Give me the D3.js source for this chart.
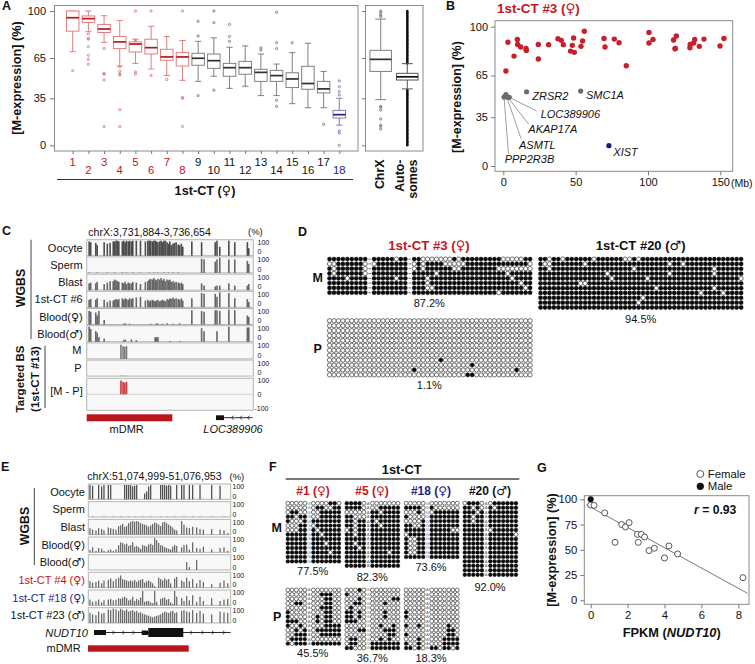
<!DOCTYPE html>
<html><head><meta charset="utf-8">
<script src="https://cdn.jsdelivr.net/npm/d3@7/dist/d3.min.js"></script>
<style>
html,body{margin:0;padding:0;background:#fff}
svg{display:block}
text{font-family:"Liberation Sans",Arial,sans-serif;fill:#111}
</style></head><body>
<script>
// ---------- Panel A data ----------
const sampleIds=[1,2,3,4,5,6,7,8,9,10,11,12,13,14,15,16,17,18];
const whiskerLow=[69.7,84.6,76.7,59,61,56.8,52,48.4,47.6,51.4,42.4,44,37,37,31,28,28,15];
const quart1=[85,91.5,84,72,69.5,68,63.3,59,59.6,57.3,51.4,52.9,47.6,47.6,43,41.7,39,20.3];
const medians=[95,94.3,86.6,77,75.4,72.7,65.8,65.8,64.8,63,57.8,57.8,54.3,51.9,49.4,46,42,22.8];
const quart3=[100,96.3,90,81,77,79,71.5,69,68.5,68,61,62.5,56.6,55.8,54,58.8,47.6,26];
const whiskerHigh=[100,100,96.5,93,79,88.6,81,78,77.4,80,73,74,68,60.5,69,76,55,35];
const outliers=[[55.6],[83,79.6,79,73.5,67,64,60.3],[72,53.6,53,48.6,14],[58.5,55,53,52.4,26.5,14],[100,78,54.6,53],[100,52],[49],[100,35.7,35,14],
 [92.3,81.4,37],[100,91.3,41],[90,81,77.4],[],[72.5,70.7],[99,76.4,72,33.5,29],[76.4],[],[15.6],[48,43.7,40,37.5,10.7,9,0]];
const sampleGroup=["r","r","r","r","r","r","r","r","k","k","k","k","k","k","k","k","k","b"];
const chromNames=["ChrX","Autosomes"];
const chromStats=[[34,55,64,70.7,94],[42,48.6,51,53.6,60.8]];
const chrXOut=[100,98.8,97,95.8,29,28.3,26.3,19.6,15,14,12];
const autoOut=[100,99,98,97,96,95,94,93,92,91,90,89,88,87,86,85,84,83,82,81,80,79,78,77,76,75,74,73,72,71,70,69,68,67,66,65,64,63,62,61,
 41,40,39,38,37,36,35,34,33,32,31,30,29,28,27,26,25,24,23,22,21,20,19,18,17,16,15,14,13,12,11,10,9,8,7,6,5,4,3,2,1,0];
const aTicks=[0,35,65,100];
// ---------- Panel B data ----------
const bRedMb=[1.8,3.2,7.4,9.7,9.9,12,15.7,15.9,24.2,24.2,31.3,37.8,40.1,41.5,46.5,47.7,48.6,49.1,53.7,54.8,56,69.6,70.3,76.7,80,85,100.7,100.7,103.5,117.7,118.7,118.9,119.6,129,129.2,131.6,132.3,135.5,138.7,149.8,152.5];
const bRedPct=[68.2,88.8,78.9,90.9,87.3,85.4,84.4,83,76.8,87.3,87.1,91.4,90.2,87.1,82.5,86.6,91.9,81.6,85.9,89.7,96.7,91.6,85.4,91.1,88.5,72,95.9,88.3,90.9,90.4,84.2,84.4,93.3,84.9,87.3,88.3,90.9,85.9,91.1,86.1,91.6];
const bGrayMb=[0.5,1.8,3,4.1,16.1,53.5];
const bGrayPct=[49.5,51.2,49.4,49.3,53.3,53.8];
const bBlueMb=[73], bBluePct=[14.6];
const bGenes=["ZRSR2","SMC1A","LOC389906","AKAP17A","ASMTL","PPP2R3B","XIST"];
// ---------- Panel C data ----------
const cPos=[70,115,260,300,350,500,590,670,760,800,840,880,920,1020,1060,1100,1140,1190,1230,1280,1320,1380,1420,1540,1680,1750,1790,1830,1880,1920,1960,2000,2040,2090,2130,2170,2210,2250,2300,2340,2380,2420,2470,2510,2560,2620,2660,2710,2750,3010,3290,3360,3680,3730,3810,4070,4240,4600,4640];
const cNames=["Oocyte","Sperm","Blast","1st-CT #6","Blood(♀)","Blood(♂)"];
const cOocyte=[95,90,85,70,0,90,80,85,95,95,100,100,95,95,100,90,100,95,100,95,100,0,100,100,95,100,100,100,95,100,100,95,90,95,100,90,100,100,90,80,95,70,80,85,90,75,70,80,60,95,90,0,90,100,60,100,90,90,50];
const cSperm=[3,0,0,3,0,0,3,0,0,3,0,0,0,3,0,0,3,0,0,0,3,0,0,3,0,0,3,0,0,3,0,0,3,0,0,0,3,0,0,3,0,0,3,0,0,3,0,0,0,0,95,90,75,90,100,90,90,80,60];
const cBlast=[45,50,45,55,0,40,50,60,60,70,65,60,55,50,45,55,40,50,45,45,55,0,50,40,55,60,70,75,70,80,70,65,75,70,80,65,75,60,70,65,70,55,60,50,55,50,45,50,40,0,45,30,25,30,30,45,30,30,40];
const cSixth=[50,55,50,60,0,50,35,45,45,50,55,50,55,60,50,60,55,50,60,55,60,0,65,70,45,50,40,45,50,45,40,45,50,40,45,50,45,40,55,50,60,55,65,55,60,55,50,60,45,60,95,90,90,70,100,95,60,55,35];
const cBloodF=[90,85,80,60,90,30,0,0,0,0,0,0,0,0,5,8,0,0,5,0,0,0,0,0,0,0,0,5,0,0,0,8,5,0,0,5,0,0,8,0,0,0,5,0,0,0,8,0,0,95,90,85,95,95,90,100,95,60,50];
const cBloodM=[100,85,70,60,30,20,0,0,0,0,0,0,0,0,10,15,0,0,0,15,0,0,10,0,0,0,0,0,0,0,30,30,30,0,0,0,0,0,0,0,5,0,0,0,0,0,5,0,0,0,90,70,0,70,0,100,0,95,95];
const cSeries=[cOocyte,cSperm,cBlast,cSixth,cBloodF,cBloodM];
const targetPos=[980,1040,1090,1140];
const targetM=[95,85,80,85], targetP=[3,2,2,2], targetDiff=[92,83,78,83];
// ---------- Panel E data ----------
const ePos=[23,59,105,142,183,215,275,307,343,380,416,444,471,499,526,554,581,609,636,664,691,718,746,773,801,828,856,883,911,938,966,993,1020,1048,1075,1103,1130,1158,1185,1213,1281,1313,1350,1387,1432,1487,1533,1579,1693,1808,1862,1913];
const eNames=["Oocyte","Sperm","Blast","Blood(♀)","Blood(♂)","1st-CT #4 (♀)","1st-CT #18 (♀)","1st-CT #23 (♂)"];
const eOocyte=[100,95,0,100,90,100,100,100,0,0,0,0,0,100,100,100,100,90,95,100,0,0,0,40,55,90,100,0,0,0,0,100,100,100,95,100,95,0,0,100,100,100,0,100,100,0,100,0,100,95,0,0];
const eSperm=[0,3,0,0,0,3,0,0,3,0,0,3,0,0,0,3,0,0,3,0,0,0,3,0,0,0,3,0,0,0,0,3,0,0,3,0,0,0,3,0,0,3,0,0,3,0,3,0,3,0,3,0];
const eBlast=[45,35,30,45,40,30,50,45,40,35,60,65,75,55,60,80,90,95,90,95,90,80,75,70,65,55,65,75,85,80,70,60,85,90,80,70,60,50,35,30,95,70,50,45,55,50,40,35,40,35,30,10];
const eBloodF=[15,35,10,30,25,10,15,20,10,20,50,70,65,55,60,45,50,70,40,45,35,25,50,45,40,55,60,50,100,85,65,50,45,35,30,25,20,40,50,45,35,50,55,20,70,30,25,40,20,30,35,10];
const eBloodM=[0,0,0,0,0,0,0,0,0,0,0,0,0,0,0,0,0,0,0,0,0,0,0,0,0,0,0,0,0,0,0,0,0,0,0,0,0,0,0,0,0,0,55,20,0,70,0,0,0,0,0,0];
const eFourth=[45,35,40,50,30,50,55,65,45,60,70,85,60,55,50,45,50,45,55,40,50,55,60,35,45,50,40,30,10,0,70,60,50,65,55,60,30,0,65,75,50,40,70,45,60,30,55,40,25,35,50,30];
const eEighteenth=[40,25,30,40,20,35,40,45,35,40,50,45,55,60,50,35,40,60,30,45,35,55,100,25,30,30,20,15,100,25,0,45,50,55,40,45,20,10,100,60,50,30,65,35,70,25,60,30,50,30,40,45];
const eTwentyThird=[70,60,55,80,65,70,95,90,100,95,85,100,90,85,95,80,85,90,80,85,70,75,65,60,55,50,45,40,45,50,55,60,70,80,75,70,80,85,70,75,85,90,80,75,90,70,85,65,60,80,75,70];
const eSeries=[eOocyte,eSperm,eBlast,eBloodF,eBloodM,eFourth,eEighteenth,eTwentyThird];
// ---------- Panel D data (indices of unmethylated CpGs per read) ----------
const d3MOpen=[[15,21,22,23,24,25,26,27,29,39,40,41,42,43],[0,1,8,10,19,21,26,27,28,29,30,45],[1,8,19,21,28,29,38,39,40,41,42,43,44,45],[1,8,24,40],[4,15,22,41],[22,43],[22,23,44],[38]];
const d3PFilled=[[],[],[],[],[],[],[],[],[25],[32],[19,42],[31,32]];
const d20MOpen=[[2,5,12,19,20,22],[1,2,10,29,32],[2,21,39],[15,29,39],[16,24,45],[9,10],[26,39],[36,41],[23],[22],[]];
const dGapCols=[9,18];
// ---------- Panel F data (reads; 1 = methylated) ----------
const f1M=["000000000110","000000110011","011000011111","110110011111","100011111111","000110111111","000111011111","111111101111","111111111111","111111110111","111111111111","111111111011","111111111111","111111111111"];
const f5M=["111100000000","111100011111","000001101111","110001111111","110111011111","110111101111","010111111111","110111111111","111111111111","110111111111","111011111111","111111111011","111111111111","111111111111","111111111111"];
const f18M=["000000000000","111101000000","000100111111","100001111111","000011111111","110011111111","111111111100","011111111111","100111111111","100111111111","100111111111","100111111111","111111111111"];
const f20M=["011100111111","110101011111","111011111111","110111111111","110111111111","111111111111","111110111111","111111111110","111111111111","111111111111","111111111111","111111111111","111111111111","111111111111","111111111111","111111111111","111111111111"];
const f1P=["000000000000","000000011100","000000001100","001100001100","000000011100","100000001100","100000101100","111000101100","100100001111","001010111111","001110011111","011110000000","101111111111"];
const f5P=["000100000000","100000000000","000100000011","001100001000","010000000000","110100001000","110100001000","111000000000","000000010010","000110001110","000000000110","011000010100","011001111111","110001111111"];
const f18P=["000000000000","000000000000","000000000000","000000000000","000000000000","100000000000","100000000000","000000000000","100100000100","000000000110","100000000110","000100001111","100100001111","110101101101"];
const fPercM=["77.5%","82.3%","73.6%","92.0%"], fPercP=["45.5%","36.7%","18.3%"];
const fCenterM=["G","A","G","A"], fCenterP=["A","G","A"];
// ---------- Panel G data ----------
const gFemaleX=[0,0.18,0.76,1.32,1.68,1.88,2.08,2.53,2.58,2.74,2.92,3.16,3.45,4.0,4.24,4.71,8.25];
const gFemaleY=[94.4,94,86.5,57.4,75,72.6,76.9,65.3,57.4,65.3,62.7,49.2,51.5,41.9,53.8,45.9,22.4];
const gMaleX=[0], gMaleY=[100];
const gLineX=[-0.22,8.5], gLineY=[94.4,6.9];

// ---------- helpers ----------
const RED="#c3161c", BLUE="#27247f";
const svg=d3.select("body").append("svg").attr("width",755).attr("height",664);
function txt(x,y,s,o={}){
  const t=svg.append("text").attr("x",x).attr("y",y)
    .attr("font-size",o.size||11).attr("font-weight",o.bold?"bold":"normal")
    .attr("font-style",o.italic?"italic":"normal").attr("text-anchor",o.anchor||"start")
    .style("fill",o.fill||"#111");
  if(o.rotate) t.attr("transform",`rotate(-90 ${x} ${y})`);
  s.split(/([♀♂])/).forEach(p=>{
    if(!p) return;
    const ts=t.append("tspan").text(p);
    if(p==="♀"||p==="♂") ts.style("font-family","'DejaVu Sans'").attr("font-weight","normal");
  });
  return t;
}
function frame(x0,y0,x1,y1,stroke="#8a8a8a",w=1,fill="none"){
  svg.append("rect").attr("x",x0).attr("y",y0).attr("width",x1-x0).attr("height",y1-y0)
   .attr("fill",fill).attr("stroke",stroke).attr("stroke-width",w);
}
function ln(x1,y1,x2,y2,stroke="#333",w=1){
  svg.append("line").attr("x1",x1).attr("y1",y1).attr("x2",x2).attr("y2",y2).attr("stroke",stroke).attr("stroke-width",w);
}
function axis(gen,tx,ty,size=11,color="#777"){
  const g=svg.append("g").attr("transform",`translate(${tx},${ty})`).call(gen);
  g.select(".domain").remove();
  g.selectAll(".tick line").attr("stroke",color);
  g.selectAll(".tick text").attr("font-size",size).style("font-family",'"Liberation Sans"').style("fill","#111");
  return g;
}
["A|2|10","B|446|10","C|2|235","D|298|236","E|1|471","F|269|471","G|537|472"].forEach(s=>{
  const [l,x,y]=s.split("|"); txt(+x,+y,l,{bold:true,size:12.5});
});
const yTitle="[M-expression] (%)";

// ---------- Panel A ----------
const ax=d3.scaleLinear().domain([1,18]).range([72.7,339.3]);
const ay=d3.scaleLinear().domain([0,100]).range([145.3,11]);
frame(54.5,5.5,358,151); frame(365.5,5.5,423,151);
const groupCols={r:{s:"#dd7f80",m:"#b8161c",o:"#d9686b"},k:{s:"#808080",m:"#2f2f2f",o:"#6a6a6a"},b:{s:"#7e7eb8",m:"#241f80",o:"#6f6fb5"}};
function box(cx,w,st,out,c,outR=1.1){
  const g=svg.append("g");
  const [wl,q1,m,q3,wh]=st;
  g.append("line").attr("x1",cx).attr("x2",cx).attr("y1",ay(wl)).attr("y2",ay(q1)).attr("stroke",c.s);
  g.append("line").attr("x1",cx).attr("x2",cx).attr("y1",ay(q3)).attr("y2",ay(wh)).attr("stroke",c.s);
  [wl,wh].forEach(v=>g.append("line").attr("x1",cx-w/4).attr("x2",cx+w/4).attr("y1",ay(v)).attr("y2",ay(v)).attr("stroke",c.s));
  g.append("rect").attr("x",cx-w/2).attr("y",ay(q3)).attr("width",w).attr("height",ay(q1)-ay(q3)).attr("fill","#fff").attr("stroke",c.s);
  g.append("line").attr("x1",cx-w/2).attr("x2",cx+w/2).attr("y1",ay(m)).attr("y2",ay(m)).attr("stroke",c.m).attr("stroke-width",1.7);
  g.selectAll("circle").data(out).join("circle").attr("cx",cx).attr("cy",d=>ay(d)).attr("r",outR)
    .attr("fill","none").attr("stroke",c.o).attr("stroke-width",0.8);
}
sampleIds.forEach((id,i)=>box(ax(id),12.5,[whiskerLow[i],quart1[i],medians[i],quart3[i],whiskerHigh[i]],outliers[i],groupCols[sampleGroup[i]]));
const ax2=d3.scalePoint().domain(chromNames).range([380.7,407.3]);
box(ax2("ChrX"),21.5,chromStats[0],chrXOut,groupCols.k);
svg.append("g").selectAll("circle").data(autoOut).join("circle").attr("cx",ax2("Autosomes")).attr("cy",d=>ay(d)).attr("r",1.3).attr("fill","#111");
box(ax2("Autosomes"),21.5,chromStats[1],[],{s:"#555",m:"#111",o:"#111"});
axis(d3.axisLeft(ay).tickValues(aTicks).tickSize(4).tickPadding(4),54,0);
axis(d3.axisLeft(ay).tickValues(aTicks).tickSize(3).tickFormat(""),365,0);
axis(d3.axisBottom(ax).tickValues(sampleIds).tickSize(3).tickFormat(""),0,151);
sampleIds.forEach((id,i)=>txt(ax(id),i%2?173.5:166,String(id),{anchor:"middle",size:11.3,fill:sampleGroup[i]==="r"?RED:sampleGroup[i]==="b"?BLUE:"#111"}));
ln(57,179.5,353,179.5,"#333",1.1);
txt(205,195,"1st-CT (♀)",{anchor:"middle",bold:true,size:12.7});
txt(21,78,yTitle,{anchor:"middle",bold:true,size:12.7,rotate:true});
txt(384,159.5,"ChrX",{anchor:"end",bold:true,size:12.4,rotate:true});
txt(404,159.5,"Auto-",{anchor:"end",bold:true,size:12.4,rotate:true});
txt(416.5,159.5,"somes",{anchor:"end",bold:true,size:12.4,rotate:true});

// ---------- Panel B ----------
const bx=d3.scaleLinear().domain([0,150]).range([503.3,720.3]);
const by=d3.scaleLinear().domain([0,100]).range([166,26.7]);
frame(495,20.7,732.7,171.3);
axis(d3.axisLeft(by).tickValues([0,35,65,100]).tickSize(4).tickPadding(3),495,0);
axis(d3.axisBottom(bx).tickValues([0,50,100,150]).tickSize(4).tickPadding(3),0,171.3);
txt(731,187,"(Mb)",{size:10.5});
txt(460.5,97,yTitle,{anchor:"middle",bold:true,size:12.5,rotate:true});
txt(497,13,"1st-CT #3 (♀)",{bold:true,size:13.4,fill:RED});
function dots(xs,ys,col,r){
  svg.append("g").selectAll("circle").data(xs.map((x,i)=>[x,ys[i]])).join("circle")
   .attr("cx",d=>bx(d[0])).attr("cy",d=>by(d[1])).attr("r",r).attr("fill",col);
}
// leader lines from the grey points to their labels
[[3,536.5,111],[2,528.5,124],[1,521,138.5],[0,508.5,154]].forEach(([i,x2,y2])=>ln(bx(bGrayMb[i]),by(bGrayPct[i]),x2,y2,"#777",0.7));
dots(bRedMb,bRedPct,"#c8202a",2.7);
dots(bGrayMb,bGrayPct,"#6b6b6b",2.6);
dots(bBlueMb,bBluePct,"#1a1a80",2.6);
[[532.3,100.3],[586,99],[540.7,118.3],[528.3,133.3],[519,148.7],[504.7,163.3],[613.3,155.7]].forEach(([x,y],i)=>txt(x,y,bGenes[i],{italic:true,size:11}));

// ---------- Tracks (C, E) ----------
function track(y0,h,xScale,pos,vals,color,bw,zeroFrac=1){
  const yS=d3.scaleLinear().domain([0,100]).range([y0+h*zeroFrac,y0+1]);
  svg.append("g").selectAll("rect").data(pos.map((p,i)=>[p,vals[i]]).filter(d=>d[1]>0)).join("rect")
    .attr("x",d=>xScale(d[0])-bw/2).attr("width",bw).attr("y",d=>yS(d[1])).attr("height",d=>yS(0)-yS(d[1]))
    .attr("fill",color).attr("opacity",0.9);
}
function trackBg(x0,x1,y0,h){ frame(x0,y0,x1,y0+h,"#b5b5b5",1,"#f8f8f8"); }
const cx=d3.scaleLinear().domain([0,4770]).range([86.7,253.3]);
const cY0=239.7,cPitch=17.2,cH=16;
function scaleLabels(x,y,top,zero){ txt(x,y+top,"100",{size:7}); txt(x,y+zero,"0",{size:7}); }
cNames.forEach((n,k)=>{
  const y=cY0+cPitch*k;
  trackBg(86.7,253.3,y,cH);
  track(y,cH,cx,cPos,cSeries[k],k===0?"#3a3a3a":"#585858",1.6);
  txt(82.7,y+12,n,{anchor:"end",size:11});
  scaleLabels(257.5,y,5.4,14.6);
});
["M","P"].forEach((n,k)=>{
  const y=cY0+cPitch*(6+k);
  trackBg(86.7,253.3,y,cH);
  track(y,cH,cx,targetPos,k?targetP:targetM,"#666",1.5);
  txt(81.5,y+11.5,n,{anchor:"end",size:11});
  scaleLabels(257.5,y,5.4,14.6);
});
{
  const y=378.3,h=32;
  trackBg(86.7,253.3,y,h);
  ln(86.7,y+h/2,253.3,y+h/2,"#c8c8c8",0.8);
  track(y,h/2,cx,targetPos,targetDiff,"#c62f33",1.7);
  txt(82.7,y+17,"[M - P]",{anchor:"end",size:11});
  txt(257.5,y+5,"100",{size:7}); txt(257.5,y+19,"0",{size:7}); txt(254.5,y+32.5,"-100",{size:7});
}
txt(88.3,235.7,"chrX:3,731,884-3,736,654",{size:10.6});
txt(248,234.5,"(%)",{size:9.5});
txt(25,288,"WGBS",{anchor:"middle",bold:true,size:12.3,rotate:true});
ln(31,239.7,31,339,"#444",1);
txt(24,379,"Targeted BS",{anchor:"middle",bold:true,size:11.5,rotate:true});
txt(39,379,"(1st-CT #13)",{anchor:"middle",bold:true,size:11.5,rotate:true});
ln(45,345.7,45,408,"#444",1);
svg.append("rect").attr("x",86.7).attr("y",414.3).attr("width",85.6).attr("height",7).attr("fill","#b8161c");
txt(126.7,433.3,"mDMR",{anchor:"middle",size:11});
svg.append("rect").attr("x",216).attr("y",415.3).attr("width",8).attr("height",4.8).attr("fill","#111");
ln(224,417.7,252.7,417.7,"#111",0.9);
[232,240.5,248].forEach(x=>svg.append("path").attr("d",`M${x+1.5},415.7L${x-0.5},417.7L${x+1.5},419.7`).attr("fill","none").attr("stroke","#111").attr("stroke-width",0.8));
txt(233,433.3,"LOC389906",{anchor:"middle",italic:true,size:11});

const ex=d3.scaleLinear().domain([0,1954]).range([88.3,230.7]);
const eY0=484,ePitch=17.67,eH=15.3;
eNames.forEach((n,k)=>{
  const y=eY0+ePitch*k;
  trackBg(88.3,230.7,y,eH);
  track(y,eH,ex,ePos,eSeries[k],k===0?"#3a3a3a":"#585858",1.25);
  txt(85,y+11.7,n,{anchor:"end",size:11,fill:k===5?RED:k===6?BLUE:"#111"});
  scaleLabels(232.5,y,5.2,15);
});
txt(87.3,479.7,"chrX:51,074,999-51,076,953",{size:10.6});
txt(229.5,479.7,"(%)",{size:9.5});
txt(29,526,"WGBS",{anchor:"middle",bold:true,size:12.3,rotate:true});
ln(34.3,488,34.3,565,"#444",1);
txt(88,637,"NUDT10",{anchor:"end",italic:true,size:11});
ln(94,632.5,230.7,632.5,"#111",0.9);
[[94,106,630,635],[141.7,148.3,630.5,635],[148.3,183.3,628,637]].forEach(([a,b,c,d])=>svg.append("rect").attr("x",a).attr("y",c).attr("width",b-a).attr("height",d-c).attr("fill","#111"));
[113.5,123.5,133.5,191.5,202.5,213,224].forEach(x=>svg.append("path").attr("d",`M${x-1},630.8L${x+0.8},632.5L${x-1},634.2`).attr("fill","none").attr("stroke","#111").attr("stroke-width",0.8));
svg.append("rect").attr("x",88).attr("y",645.3).attr("width",100.7).attr("height",6.4).attr("fill","#b8161c");
txt(80.7,652.3,"mDMR",{anchor:"end",size:11});

// ---------- Dot matrices ----------
function lollipop(cols,rows,x0,y0,px,py,isFilled,r=2.05,skipCol=()=>false){
  const cells=[];
  d3.range(rows).forEach(ro=>d3.range(cols).forEach(co=>{ if(!skipCol(co)) cells.push({ro,co,f:isFilled(ro,co)}); }));
  const sx=d3.scaleLinear().domain([0,cols]).range([x0,x0+px*cols]);
  const sy=d3.scaleLinear().domain([0,rows]).range([y0,y0+py*rows]);
  svg.append("g").selectAll("circle").data(cells).join("circle")
   .attr("cx",d=>sx(d.co+0.5)).attr("cy",d=>sy(d.ro+0.5)).attr("r",r)
   .attr("fill",d=>d.f?"#0c0c0c":"#fff").attr("stroke",d=>d.f?"#0c0c0c":"#555").attr("stroke-width",d=>d.f?0.3:0.85);
  return {sx,sy};
}
// Panel D
{
  const s=lollipop(46,d3MOpen.length,327.3,256.7,4.457,4.8,(r,c)=>!d3MOpen[r].includes(c),2.15,c=>dGapCols.includes(c));
  dGapCols.forEach(c=>d3.range(d3MOpen.length).forEach(r=>ln(s.sx(c+0.5)-1.3,s.sy(r+0.5),s.sx(c+0.5)+1.3,s.sy(r+0.5),"#555",0.8)));
  lollipop(46,d3PFilled.length,327.3,318.3,4.457,4.92,(r,c)=>d3PFilled[r].includes(c),2.15);
  lollipop(46,d20MOpen.length,538.3,256.7,4.457,4.84,(r,c)=>!d20MOpen[r].includes(c),2.15);
}
txt(429,250,"1st-CT #3 (♀)",{anchor:"middle",bold:true,size:13.2,fill:RED});
txt(640.7,250,"1st-CT #20 (♂)",{anchor:"middle",bold:true,size:13});
txt(312.5,281.7,"M",{bold:true,size:12.5});
txt(313.5,353.3,"P",{bold:true,size:12.5});
txt(429.3,307.3,"87.2%",{anchor:"middle",size:11});
txt(640.7,323.3,"94.5%",{anchor:"middle",size:11});
txt(429.3,389.3,"1.1%",{anchor:"middle",size:11});

// Panel F
function fBlock(reads,x0,y0,center){
  const px=4.26,py=4.47,cols=13;
  const isF=(r,c)=>{ const i=c<5?c:c-1; return reads[r][i]==="1"; };
  const s=lollipop(cols,reads.length,x0,y0,px,py,isF,1.95,c=>c===5);
  reads.forEach((_,r)=>txt(s.sx(5.5),s.sy(r+0.5)+1.4,center,{anchor:"middle",size:4.2,fill:"#666"}));
}
const fX=[285.7,344.7,404,462.7];
[f1M,f5M,f18M,f20M].forEach((f,i)=>fBlock(f,fX[i],501,fCenterM[i]));
[f1P,f5P,f18P].forEach((f,i)=>fBlock(f,fX[i],587.7,fCenterP[i]));
txt(401.7,474,"1st-CT",{anchor:"middle",bold:true,size:12.8});
ln(285.7,479,519.3,479,"#777",1.8);
[["#1 (♀)",313,RED],["#5 (♀)",372,RED],["#18 (♀)",431,BLUE],["#20 (♂)",490,"#111"]].forEach(([t,x,c])=>txt(x,495,t,{anchor:"middle",bold:true,size:12,fill:c}));
[[312.7,575],[372.3,581],[431,570.7],[490,590.7]].forEach(([x,y],i)=>txt(x,y,fPercM[i],{anchor:"middle",size:11}));
[[312.7,657],[372.3,661.7],[431,661.7]].forEach(([x,y],i)=>txt(x,y,fPercP[i],{anchor:"middle",size:11}));
txt(271.5,531.7,"M",{bold:true,size:12.5});
txt(273,621,"P",{bold:true,size:12.5});

// ---------- Panel G ----------
const gx=d3.scaleLinear().domain([0,8]).range([590.7,738.3]);
const gy=d3.scaleLinear().domain([0,100]).range([600.3,499.3]);
frame(584.3,495.7,749,604.3);
axis(d3.axisLeft(gy).tickValues([0,25,50,75,100]).tickSize(4).tickPadding(3),584.3,0,11.3);
axis(d3.axisBottom(gx).tickValues([0,2,4,6,8]).tickSize(4).tickPadding(3),0,604.3,11.3);
svg.append("path").attr("d",d3.line().x(d=>gx(d[0])).y(d=>gy(d[1]))(gLineX.map((x,i)=>[x,gLineY[i]]))).attr("stroke","#777").attr("stroke-width",1).attr("fill","none");
svg.append("g").selectAll("circle").data(gFemaleX.map((x,i)=>[x,gFemaleY[i]])).join("circle").attr("cx",d=>gx(d[0])).attr("cy",d=>gy(d[1])).attr("r",3).attr("fill","#fff").attr("stroke","#444").attr("stroke-width",0.9);
svg.append("g").selectAll("circle").data(gMaleX.map((x,i)=>[x,gMaleY[i]])).join("circle").attr("cx",d=>gx(d[0])).attr("cy",d=>gy(d[1])).attr("r",3).attr("fill","#111");
txt(555.5,550,yTitle,{anchor:"middle",bold:true,size:12.7,rotate:true});
{
  const t=svg.append("text").attr("x",671.7).attr("y",637.3).attr("text-anchor","middle").attr("font-size",12.8).attr("font-weight","bold");
  t.append("tspan").text("FPKM (");t.append("tspan").attr("font-style","italic").text("NUDT10");t.append("tspan").text(")");
  const r=svg.append("text").attr("x",694).attr("y",514).attr("font-size",12.2).attr("font-weight","bold");
  r.append("tspan").attr("font-style","italic").text("r");r.append("tspan").text(" = 0.93");
}
svg.append("circle").attr("cx",700.3).attr("cy",474).attr("r",3.5).attr("fill","#fff").attr("stroke","#444").attr("stroke-width",0.9);
svg.append("circle").attr("cx",700.3).attr("cy",486.3).attr("r",3.6).attr("fill","#111");
txt(707.7,477.8,"Female",{size:11.4});
txt(707.7,490,"Male",{size:11.4});
</script>
</body></html>
